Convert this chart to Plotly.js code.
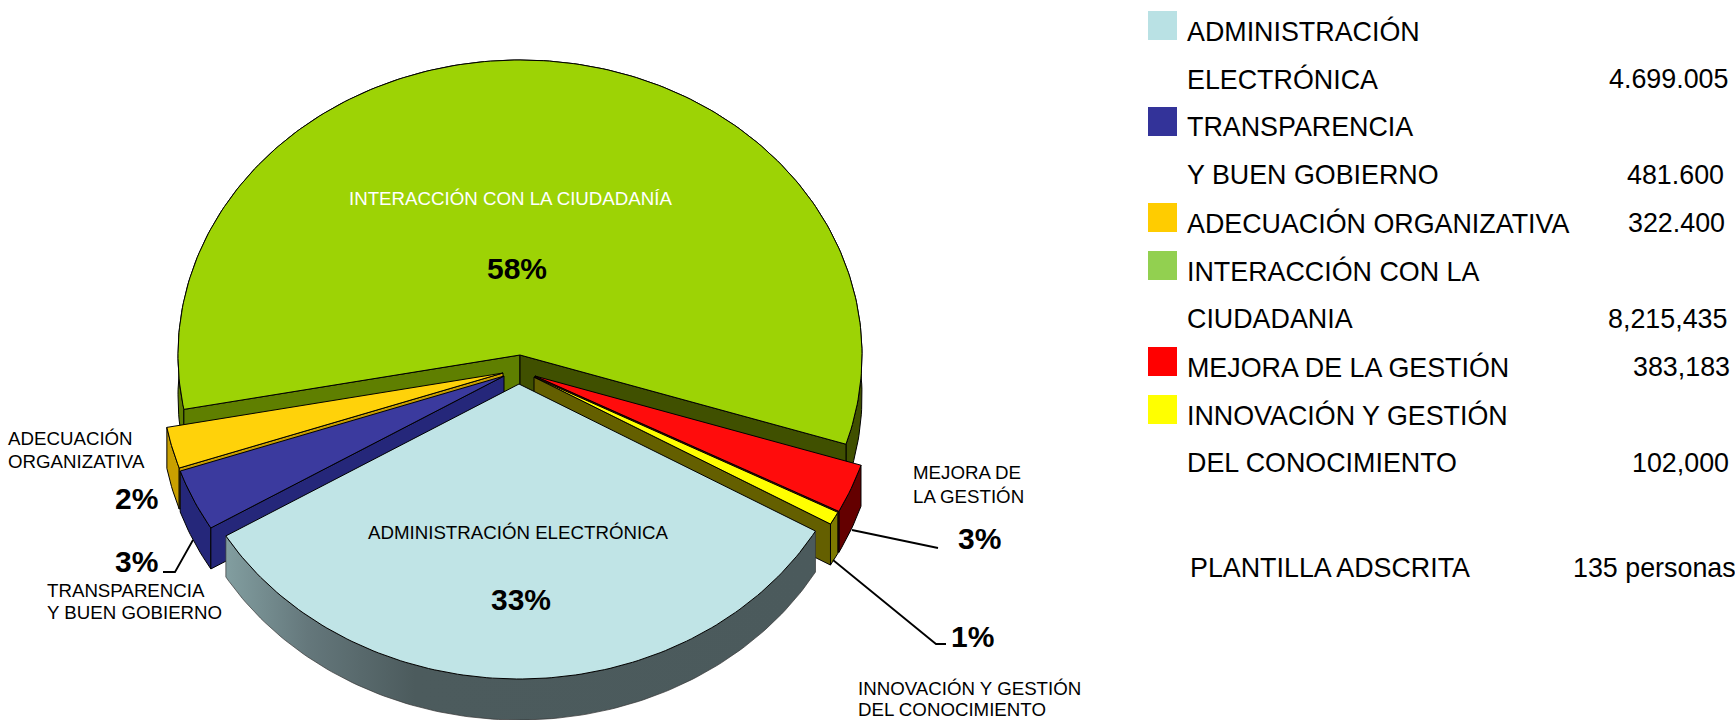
<!DOCTYPE html>
<html><head><meta charset="utf-8">
<script src="https://cdn.plot.ly/plotly-3.0.1.min.js"></script>
<style>html,body{margin:0;padding:0;background:#fff;overflow:hidden}#chart{width:1735px;height:720px}</style>
</head><body><div id="chart"></div>
<script>
// ---- data ----
const categories = ['ADMINISTRACIÓN ELECTRÓNICA','TRANSPARENCIA Y BUEN GOBIERNO','ADECUACIÓN ORGANIZATIVA','INTERACCIÓN CON LA CIUDADANÍA','MEJORA DE LA GESTIÓN','INNOVACIÓN Y GESTIÓN DEL CONOCIMIENTO'];
const values = [4699005, 481600, 322400, 8215435, 383183, 102000];
const legendLines = [
  ['ADMINISTRACIÓN',''],['ELECTRÓNICA','4.699.005'],['TRANSPARENCIA',''],['Y BUEN GOBIERNO','481.600'],
  ['ADECUACIÓN ORGANIZATIVA','322.400'],['INTERACCIÓN CON LA',''],['CIUDADANIA','8,215,435'],
  ['MEJORA DE LA GESTIÓN','383,183'],['INNOVACIÓN Y GESTIÓN',''],['DEL CONOCIMIENTO','102,000']];
const valueRight = [0,1729,0,1725,1726,0,1728,1731,0,1730];
const swatchColors = ['#b9e1e4','#333399','#ffcc00','#92d050','#ff0000','#ffff00'];
const swatchRow = [0,2,4,5,7,8];

// ---- styling & geometry of the pie ----
const topColors  = ['#c0e4e6','#3b3a9e','#ffd20a','#9dd305','#ff0c0c','#ffff00'];
const sideColors = ['#4b5a5c','#25277a','#c9a000','#5f7f00','#640000','#645f00'];
const arcColors  = ['#4b5a5c','#25277a','#c9a000','#5f7f00','#640000','#7d7a00'];
const rightSideGreen = '#405000';
const apexX = [519,504,503,520,535,534];
const apexY = [384,376,373,355,376,377];
const drawOrder = [3,2,1,4,5,0];
const RX = 342, RY = 295, DEPTH = 41, START_DEG = 29.9;

const total = values.reduce((a,b)=>a+b,0);
let acc = START_DEG;
const spans = values.map(v=>{const s=acc; acc+=v/total*360; return [s,acc];});
const pt=(i,deg,dz=0)=>{const t=deg*Math.PI/180;return [apexX[i]+RX*Math.cos(t),apexY[i]+RY*Math.sin(t)+dz];};
const arc=(i,a,b,dz=0)=>{const n=Math.max(2,Math.ceil(Math.abs(b-a)));const o=[];for(let k=0;k<=n;k++)o.push(pt(i,a+(b-a)*k/n,dz));return o;};
const poly=(pts,color,extra={})=>Object.assign({type:'scatter',mode:'lines',x:pts.map(p=>p[0]).concat(pts[0][0]),y:pts.map(p=>p[1]).concat(pts[0][1]),
  fill:'toself',fillcolor:color,line:{color:'#000',width:1},hoverinfo:'skip',showlegend:false},extra);

const traces=[];
drawOrder.forEach(i=>{
  const [a,b]=spans[i];
  const wall=(x,y)=>arc(i,x,y).concat(arc(i,y,x,DEPTH));
  if(i===3){
    const mid=270;
    traces.push(poly(wall(a,mid),arcColors[i]));
    traces.push(poly(wall(mid,b),rightSideGreen));
  } else if(i===0){
    traces.push(poly(wall(a,b),arcColors[i],{fillgradient:{type:'horizontal',colorscale:[[0,'#829ea0'],[0.14,'#64777b'],[0.32,'#4c5b5d'],[1,'#4b5a5c']]},line:{color:'#333',width:0.7}}));
  } else {
    traces.push(poly(wall(a,b),arcColors[i]));
  }
  const radial=(deg,color)=>{const p=pt(i,deg);const ax=apexX[i],ay=apexY[i];
    traces.push(poly([[ax,ay],p,[p[0],p[1]+DEPTH],[ax,ay+DEPTH]],color));};
  if(Math.cos(a*Math.PI/180)<0) radial(a,sideColors[i]);
  if(Math.cos(b*Math.PI/180)>0) radial(b,i===3?rightSideGreen:sideColors[i]);
  traces.push(poly([[apexX[i],apexY[i]]].concat(arc(i,a,b)),topColors[i]));
});

// leader lines
const leaderX=[[193,175,163],[852,938],[833,936,946]];
const leaderY=[[540,572,572],[530,548],[560,644,644]];
leaderX.forEach((x,k)=>traces.push({type:'scatter',mode:'lines',x:x,y:leaderY[k],line:{color:'#000',width:1.8},hoverinfo:'skip',showlegend:false}));

// legend swatches
const rowY=r=>31+48*r;
traces.push({type:'scatter',mode:'markers',x:swatchColors.map(()=>1162.5),y:swatchRow.map(r=>rowY(r)-5.5),
  marker:{symbol:'square',size:29,color:swatchColors,line:{width:0}},hoverinfo:'skip',showlegend:false});

const F='"Liberation Sans", Arial, sans-serif';
const ann=(x,y,text,size,opt={})=>Object.assign({x:x,y:y,xref:'x',yref:'y',text:text,showarrow:false,xanchor:'left',yanchor:'middle',borderpad:0,
  font:{family:F,size:size,color:'#000'}},opt);
const pct=i=>'<b>'+Math.round(values[i]/total*100)+'%</b>';
const LG=26.85,SM=18.7,PC=30;
const annotations=[];
legendLines.forEach((l,r)=>{
  annotations.push(ann(1186,rowY(r),l[0],LG));
  if(l[1]) annotations.push(ann(valueRight[r],rowY(r),l[1],LG,{xanchor:'right'}));
});
annotations.push(ann(1189,568,'PLANTILLA ADSCRITA',LG));
annotations.push(ann(1572,568,'135 personas',LG));
annotations.push(ann(510,198,'INTERACCIÓN CON LA CIUDADANÍA',SM,{xanchor:'center',font:{family:F,size:SM,color:'#fff'}}));
annotations.push(ann(517,268,pct(3),PC,{xanchor:'center'}));
annotations.push(ann(518,532,'ADMINISTRACIÓN ELECTRÓNICA',SM,{xanchor:'center'}));
annotations.push(ann(521,599,pct(0),PC,{xanchor:'center'}));
annotations.push(ann(7,438,'ADECUACIÓN',SM));
annotations.push(ann(7,461,'ORGANIZATIVA',SM));
annotations.push(ann(136,498,pct(2),PC,{xanchor:'center'}));
annotations.push(ann(136,561,pct(1),PC,{xanchor:'center'}));
annotations.push(ann(46,590,'TRANSPARENCIA',SM));
annotations.push(ann(46,612,'Y BUEN GOBIERNO',SM));
annotations.push(ann(912,472,'MEJORA DE',SM));
annotations.push(ann(912,496,'LA GESTIÓN',SM));
annotations.push(ann(979,538,pct(4),PC,{xanchor:'center'}));
annotations.push(ann(972,636,pct(5),PC,{xanchor:'center'}));
annotations.push(ann(857,688,'INNOVACIÓN Y GESTIÓN',SM));
annotations.push(ann(857,709,'DEL CONOCIMIENTO',SM));

const noAxis={visible:false,fixedrange:true,showgrid:false,zeroline:false};
Plotly.newPlot('chart',traces,{
  width:1735,height:720,margin:{l:0,r:0,t:0,b:0,pad:0},paper_bgcolor:'#fff',plot_bgcolor:'#fff',showlegend:false,
  xaxis:Object.assign({range:[0,1735]},noAxis),yaxis:Object.assign({range:[720,0]},noAxis),
  annotations:annotations,font:{family:F}
},{staticPlot:true,displayModeBar:false});
</script></body></html>
